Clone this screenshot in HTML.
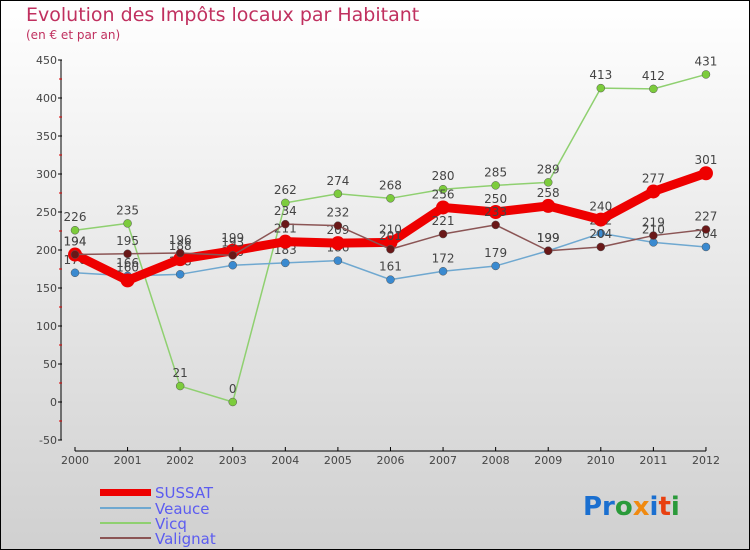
<!DOCTYPE html>
<html><head><meta charset="utf-8"><style>
body{margin:0;width:750px;height:550px;overflow:hidden}
svg{display:block;font-family:"DejaVu Sans","Liberation Sans",sans-serif}
</style></head><body>
<svg id="c" width="750" height="550">
<defs><linearGradient id="bg" x1="0" y1="0" x2="0" y2="1"><stop offset="0" stop-color="#ffffff"/><stop offset="1" stop-color="#d0d0d0"/></linearGradient></defs>
<rect x="0.5" y="0.5" width="749" height="549" fill="url(#bg)" stroke="#000"/>
<text x="26" y="21" font-size="19" fill="#c0305f">Evolution des Impôts locaux par Habitant</text>
<text x="26" y="39" font-size="12" fill="#c0305f">(en € et par an)</text>
<g id="axes"></g><g id="series"></g>
<g>
<rect x="100" y="489" width="51" height="7" fill="#e00"/>
<text x="155" y="498" font-size="15" fill="#5c5cf0">SUSSAT</text>
<line x1="100" y1="508" x2="151" y2="508" stroke="#6fa8d0" stroke-width="2"/>
<text x="155" y="514" font-size="15" fill="#5c5cf0">Veauce</text>
<line x1="100" y1="523" x2="151" y2="523" stroke="#8fd070" stroke-width="2"/>
<text x="155" y="529" font-size="15" fill="#5c5cf0">Vicq</text>
<line x1="100" y1="538" x2="151" y2="538" stroke="#8b5555" stroke-width="2"/>
<text x="155" y="544" font-size="15" fill="#5c5cf0">Valignat</text>
</g>
<text x="583" y="515" font-size="26" font-weight="bold"><tspan fill="#1a6fd0">Pr</tspan><tspan fill="#2a9a3a">o</tspan><tspan fill="#f08a10">x</tspan><tspan fill="#1a6fd0">i</tspan><tspan fill="#e84010">t</tspan><tspan fill="#2a9a3a">i</tspan></text>
</svg>
<script>
const years=[2000,2001,2002,2003,2004,2005,2006,2007,2008,2009,2010,2011,2012];
const yTicks=[-50,0,50,100,150,200,250,300,350,400,450];
const sussat=[194,160,188,199,211,209,210,256,250,258,240,277,301];
const veauce=[170,166,168,180,183,186,161,172,179,199,222,210,204];
const vicq=[226,235,21,0,262,274,268,280,285,289,413,412,431];
const valignat=[194,195,196,193,234,232,201,221,233,199,204,219,227];
const NS='http://www.w3.org/2000/svg';
const xs=i=>75+i*52.58;
const ys=v=>402-v*0.76;
function mk(t,a,p){const e=document.createElementNS(NS,t);for(const k in a)e.setAttribute(k,a[k]);p.appendChild(e);return e;}
const ax=document.getElementById('axes');
let l=mk('line',{x1:61,y1:60,x2:61,y2:440,stroke:'#000'},ax);

l=mk('line',{x1:75,y1:451,x2:706,y2:451,stroke:'#000'},ax);

yTicks.forEach(v=>{
 mk('line',{x1:58,y1:ys(v),x2:62,y2:ys(v),stroke:'#000'},ax);
 if(v<450)mk('line',{x1:59,y1:ys(v+25),x2:62,y2:ys(v+25),stroke:'#d00'},ax);
 const t=mk('text',{x:57,y:ys(v)+4,'font-size':11,fill:'#444','text-anchor':'end'},ax);t.textContent=v;
 
});
years.forEach((y,i)=>{
 mk('line',{x1:xs(i),y1:447,x2:xs(i),y2:451,stroke:'#000'},ax);
 const t=mk('text',{x:xs(i),y:464,'font-size':11,fill:'#444','text-anchor':'middle'},ax);t.textContent=y;
 
});
const sg=document.getElementById('series');
function draw(name,vals,col,dot,w,r){
 const g=mk('g',{},sg);
 
 const p=mk('polyline',{points:vals.map((v,i)=>xs(i)+','+ys(v)).join(' '),fill:'none',stroke:col,'stroke-width':w,'stroke-linejoin':'round'},g);
 
 vals.forEach((v,i)=>{
  const c=mk('circle',{cx:xs(i),cy:ys(v),r:r,fill:dot,stroke:col==='#e00'?'none':'#555','stroke-width':0.5},g);
  
  const t=mk('text',{x:xs(i),y:ys(v)-9,'font-size':12,fill:'#444','text-anchor':'middle'},g);t.textContent=v;
  
 });
}
draw('vicq',vicq,'#8fd070','#7ccc3c',1.5,4);
draw('veauce',veauce,'#6fa8d0','#3a8ad0',1.5,4);
draw('sussat',sussat,'#e00','#e00',9,7);
draw('valignat',valignat,'#8b5555','#6a1818',1.5,4);
</script>
</body></html>
